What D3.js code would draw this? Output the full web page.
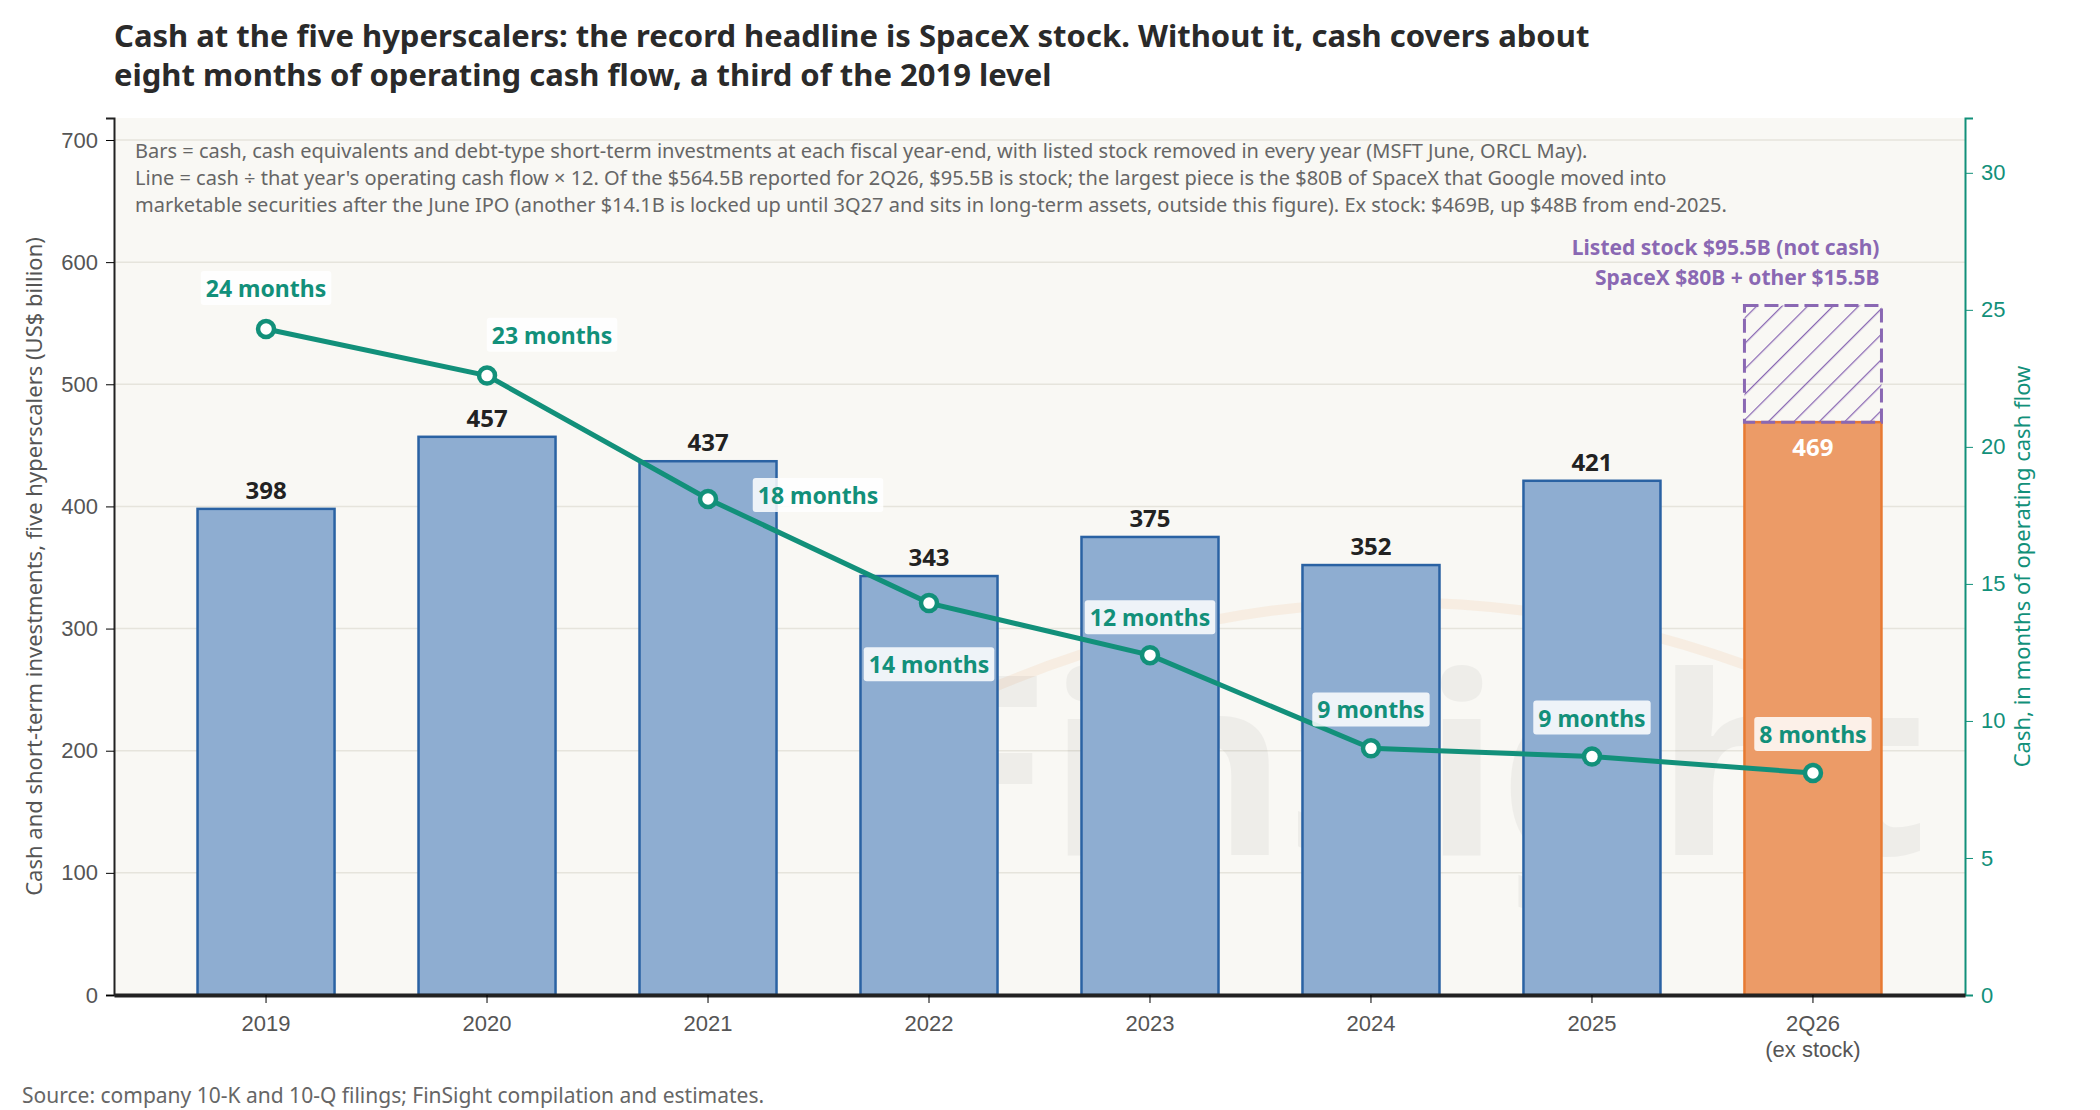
<!DOCTYPE html>
<html>
<head>
<meta charset="utf-8">
<script src="https://cdn.jsdelivr.net/npm/d3@7"></script>
<style>
  body { margin: 0; background: #fff; }
  svg { font-family: "Noto Sans", "Open Sans", sans-serif; }
</style>
</head>
<body>
<svg id="chart"></svg>
<script>
// data
const categories = ['2019', '2020', '2021', '2022', '2023', '2024', '2025', '2Q26'];
const cashValues = [398, 457, 437, 343, 375, 352, 421, 469];
const stockValues = [0, 0, 0, 0, 0, 0, 0, 95.5];
const monthsValues = [24.3, 22.6, 18.1, 14.3, 12.4, 9.0, 8.7, 8.1];
const monthsLabels = ['24 months', '23 months', '18 months', '14 months', '12 months', '9 months', '9 months', '8 months'];
const leftTicks = [0, 100, 200, 300, 400, 500, 600, 700];
const rightTicks = [0, 5, 10, 15, 20, 25, 30];
const noteLines = [
  'Bars = cash, cash equivalents and debt-type short-term investments at each fiscal year-end, with listed stock removed in every year (MSFT June, ORCL May).',
  "Line = cash \u00f7 that year's operating cash flow \u00d7 12. Of the $564.5B reported for 2Q26, $95.5B is stock; the largest piece is the $80B of SpaceX that Google moved into",
  'marketable securities after the June IPO (another $14.1B is locked up until 3Q27 and sits in long-term assets, outside this figure). Ex stock: $469B, up $48B from end-2025.'
];

const W = 2100, H = 1110;
const m = { left: 114, right: 1965, top: 118, bottom: 995 };
const teal = '#12907a', purple = '#8a68b3';

const svg = d3.select('#chart').attr('width', W).attr('height', H);

const x = d3.scaleBand().domain(categories).range([m.left, m.right])
  .paddingInner(0.38).paddingOuter(0.378);
const y = d3.scaleLinear().domain([0, 718]).range([m.bottom, m.top]);
const y2 = d3.scaleLinear().domain([0, 32]).range([m.bottom, m.top]);

// title
svg.append('text').attr('x', 114).attr('y', 47)
  .style('font-size', '31px').style('font-weight', 700).style('fill', '#2a2a2a')
  .text('Cash at the five hyperscalers: the record headline is SpaceX stock. Without it, cash covers about');
svg.append('text').attr('x', 114).attr('y', 86)
  .style('font-size', '31px').style('font-weight', 700).style('fill', '#2a2a2a')
  .text('eight months of operating cash flow, a third of the 2019 level');

// plot background
svg.append('rect').attr('x', m.left).attr('y', m.top)
  .attr('width', m.right - m.left).attr('height', m.bottom - m.top).attr('fill', '#f9f8f4');

// grid
svg.append('g').selectAll('line').data(leftTicks.slice(1)).join('line')
  .attr('x1', m.left).attr('x2', m.right)
  .attr('y1', d => y(d)).attr('y2', d => y(d))
  .attr('stroke', '#e6e4dc').attr('stroke-width', 1.5);

// watermark
svg.append('path')
  .attr('d', `M ${W * 0.47} 690 Q ${W * 0.66} 520 ${W * 0.85} 680`)
  .attr('fill', 'none').attr('stroke', '#f5e6d6').attr('stroke-width', 10).attr('opacity', 0.6);
svg.append('text').attr('x', 1420).attr('y', 855).attr('text-anchor', 'middle')
  .style('font-size', '250px').style('font-weight', 700).style('fill', '#000').style('opacity', 0.04)
  .text('FinSight');

// note
svg.append('g').selectAll('text').data(noteLines).join('text')
  .attr('x', 135).attr('y', (d, i) => 158 + i * 27)
  .style('font-size', '20px').style('fill', '#666')
  .text(d => d);

// hatch pattern
const defs = svg.append('defs');
defs.append('pattern').attr('id', 'hatch').attr('patternUnits', 'userSpaceOnUse')
  .attr('width', 18).attr('height', 18).attr('patternTransform', 'rotate(45)')
  .append('line').attr('x1', 0).attr('y1', 0).attr('x2', 0).attr('y2', 18)
  .attr('stroke', purple).attr('stroke-width', 2.5);

// bars
const bars = categories.map((c, i) => ({ c, v: cashValues[i], s: stockValues[i], last: i === categories.length - 1 }));
svg.append('g').selectAll('rect').data(bars).join('rect')
  .attr('x', d => x(d.c)).attr('width', x.bandwidth())
  .attr('y', d => y(d.v)).attr('height', d => y(0) - y(d.v))
  .attr('fill', d => d.last ? '#ec9b67' : '#8eadd1')
  .attr('stroke', d => d.last ? '#e77a32' : '#2a62a3').attr('stroke-width', 2.5);

svg.append('g').selectAll('rect').data(bars.filter(d => d.s > 0)).join('rect')
  .attr('x', d => x(d.c)).attr('width', x.bandwidth())
  .attr('y', d => y(d.v + d.s)).attr('height', d => y(d.v) - y(d.v + d.s))
  .attr('fill', 'url(#hatch)')
  .attr('stroke', purple).attr('stroke-width', 3).attr('stroke-dasharray', '14,6');

// bar value labels
svg.append('g').selectAll('text').data(bars).join('text')
  .attr('x', d => x(d.c) + x.bandwidth() / 2)
  .attr('y', d => d.last ? y(d.v) + 34 : y(d.v) - 10)
  .attr('text-anchor', 'middle')
  .style('font-size', '24px').style('font-weight', 700)
  .style('fill', d => d.last ? '#fff' : '#222')
  .text(d => d.v);

// stock labels
const last = bars[bars.length - 1];
svg.append('g').selectAll('text')
  .data(['Listed stock $95.5B (not cash)', 'SpaceX $80B + other $15.5B']).join('text')
  .attr('x', x(last.c) + x.bandwidth() - 2).attr('y', (d, i) => y(last.v + last.s) - 50 + i * 30)
  .attr('text-anchor', 'end')
  .style('font-size', '21px').style('font-weight', 700).style('fill', purple)
  .text(d => d);

// months line
const pts = categories.map((c, i) => ({ c, m: monthsValues[i], label: monthsLabels[i] }));
const cx = d => x(d.c) + x.bandwidth() / 2;
svg.append('path').datum(pts)
  .attr('d', d3.line().x(cx).y(d => y2(d.m)))
  .attr('fill', 'none').attr('stroke', teal).attr('stroke-width', 5);
svg.append('g').selectAll('circle').data(pts).join('circle')
  .attr('cx', cx).attr('cy', d => y2(d.m)).attr('r', 8)
  .attr('fill', '#fff').attr('stroke', teal).attr('stroke-width', 4.5);

// label offsets (dx, dy) relative to points
const offs = [[0, -40], [65, -40], [110, -3], [0, 62], [0, -37], [0, -38], [0, -38], [0, -38]];
const lg = svg.append('g').selectAll('g').data(pts).join('g')
  .attr('transform', (d, i) => `translate(${cx(d) + offs[i][0]},${y2(d.m) + offs[i][1]})`);
lg.append('text').attr('text-anchor', 'middle').attr('dy', '0.35em')
  .style('font-size', '23px').style('font-weight', 700).style('fill', teal)
  .text(d => d.label)
  .each(function () {
    const b = this.getBBox();
    d3.select(this.parentNode).insert('rect', 'text')
      .attr('x', b.x - 5).attr('y', b.y - 1).attr('width', b.width + 10).attr('height', b.height + 2)
      .attr('rx', 3).attr('fill', '#fff').attr('opacity', 0.85);
  });

// axes
const ax = svg.append('g').attr('transform', `translate(${m.left},0)`)
  .call(d3.axisLeft(y).tickValues(leftTicks).tickSize(8).tickPadding(8));
ax.selectAll('text').style('font-size', '22px').style('fill', '#555');
ax.select('.domain').attr('stroke', '#222').attr('stroke-width', 2);

const ar = svg.append('g').attr('transform', `translate(${m.right},0)`)
  .call(d3.axisRight(y2).tickValues(rightTicks).tickSize(8).tickPadding(8));
ar.selectAll('text').style('font-size', '22px').style('fill', teal);
ar.selectAll('line').attr('stroke', teal);
ar.select('.domain').attr('stroke', teal).attr('stroke-width', 2);

const ab = svg.append('g').attr('transform', `translate(0,${m.bottom})`)
  .call(d3.axisBottom(x).tickSize(8).tickPadding(12).tickSizeOuter(0));
ab.selectAll('text').style('font-size', '22px').style('fill', '#555');
ab.select('.domain').attr('stroke', '#222').attr('stroke-width', 4);
ab.selectAll('.tick').filter(d => d === '2Q26').append('text')
  .attr('y', 46).attr('dy', '0.71em').attr('fill', '#555').style('font-size', '22px')
  .text('(ex stock)');

// axis titles
svg.append('text')
  .attr('transform', `translate(42,${(m.top + m.bottom) / 2 + 10}) rotate(-90)`)
  .attr('text-anchor', 'middle').style('font-size', '22px').style('fill', '#555')
  .text('Cash and short-term investments, five hyperscalers (US$ billion)');
svg.append('text')
  .attr('transform', `translate(2030,${(m.top + m.bottom) / 2 + 10}) rotate(-90)`)
  .attr('text-anchor', 'middle').style('font-size', '22px').style('fill', teal)
  .text('Cash, in months of operating cash flow');

// source
svg.append('text').attr('x', 22).attr('y', 1103)
  .style('font-size', '21px').style('fill', '#666')
  .text('Source: company 10-K and 10-Q filings; FinSight compilation and estimates.');
</script>
</body>
</html>
